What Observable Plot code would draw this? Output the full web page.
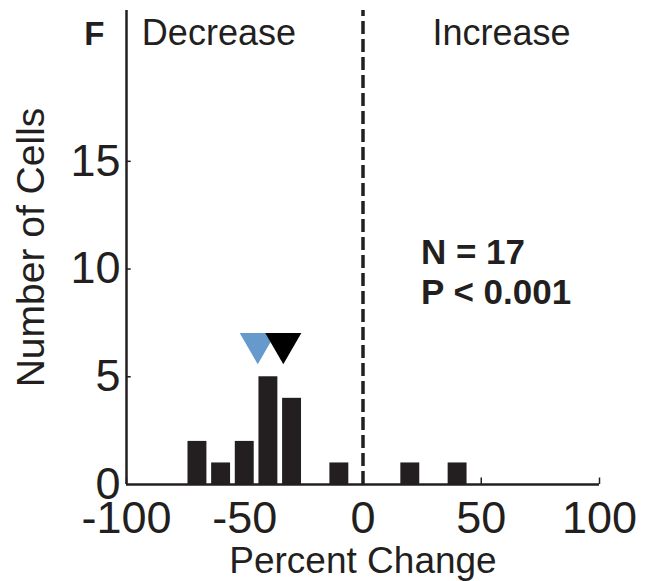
<!DOCTYPE html>
<html>
<head>
<meta charset="utf-8">
<script src="https://cdn.jsdelivr.net/npm/d3@7"></script>
<script src="https://cdn.jsdelivr.net/npm/@observablehq/plot@0.6"></script>
<style>
  body { margin: 0; background: #fff; }
</style>
</head>
<body>
<div id="chart"></div>
<script>
// ---- data ----
const binCenters = [-70, -60, -50, -40, -30, -10, 20, 40];   // percent change (bin centre)
const cellCounts = [2, 1, 2, 5, 4, 1, 1, 1];                // number of cells per bin
const binHalfWidth = 4;                                     // bars are ~8 % wide
const meanNames = ["mean (blue)", "mean (black)"];
const meanValues = [-44.5, -33.7];
const meanColors = ["#6699cc", "#000000"];
const xTicks = [-100, -50, 0, 50, 100];
const yTicks = [0, 5, 10, 15];
const regionLabels = ["Decrease", "Increase"];
const statsLines = ["N = 17", "P < 0.001"];
const panelLetter = "F";
const xLabel = "Percent Change";
const yLabel = "Number of Cells";

// ---- build tables ----
const bars = binCenters.map((c, i) => ({center: c, count: cellCounts[i]}));
const means = meanValues.map((v, i) => ({name: meanNames[i], value: v, color: meanColors[i]}));

const ink = "#231f20";
const font = "'Liberation Sans', Arial, Helvetica, sans-serif";

const chart = Plot.plot({
  width: 656,
  height: 581,
  marginLeft: 126,
  marginRight: 57,
  marginTop: 10,
  marginBottom: 97,
  style: {fontFamily: font, fontSize: "45px", color: ink, background: "#fff"},
  x: {domain: [-100, 100]},
  y: {domain: [0, 22]},
  color: {type: "identity"},
  marks: [
    Plot.rectY(bars, {
      x1: d => d.center - binHalfWidth,
      x2: d => d.center + binHalfWidth,
      y1: 0,
      y2: "count",
      fill: ink
    }),
    Plot.ruleX([0], {y1: 0, y2: 22, stroke: ink, strokeWidth: 3.5, strokeDasharray: "13,5"}),
    Plot.ruleX([-100], {y1: 0, y2: 22, stroke: ink, strokeWidth: 2.5}),
    Plot.ruleY([0], {x1: -100, x2: 100, stroke: ink, strokeWidth: 2.5}),
    Plot.ruleY(yTicks.slice(1), {x1: -100, x2: -98, stroke: ink, strokeWidth: 1.5}),
    Plot.ruleX(xTicks, {y1: 0, y2: 0.3, stroke: ink, strokeWidth: 1.5}),
    Plot.axisX({ticks: xTicks, tickSize: 0, tickPadding: 17, tickFormat: d => String(d), label: null}),
    Plot.axisY({ticks: yTicks, tickSize: 0, tickPadding: 6, tickFormat: d => String(d), label: null}),
    Plot.dot(means, {
      x: "value", y: 6.55, symbol: "triangle", rotate: 180, r: 13.4,
      fill: "color", stroke: null
    }),
    Plot.text([panelLetter], {
      text: d => d, frameAnchor: "top-left", dx: -22, dy: 34,
      textAnchor: "end", lineAnchor: "bottom", fontWeight: "bold", fontSize: 33
    }),
    Plot.text([regionLabels[0]], {
      text: d => d, x: -93.5, frameAnchor: "top", dy: 34,
      textAnchor: "start", lineAnchor: "bottom", fontSize: 36
    }),
    Plot.text([regionLabels[1]], {
      text: d => d, x: 29.4, frameAnchor: "top", dy: 34,
      textAnchor: "start", lineAnchor: "bottom", fontSize: 36
    }),
    Plot.text([statsLines.join("\n")], {
      text: d => d, x: 24.5, y: 8.4,
      textAnchor: "start", lineAnchor: "bottom", lineHeight: 1.143,
      fontWeight: "bold", fontSize: 35
    }),
    Plot.text([yLabel], {
      text: d => d, frameAnchor: "left", dx: -83, rotate: -90,
      textAnchor: "middle", lineAnchor: "bottom", fontSize: 39
    }),
    Plot.text([xLabel], {
      text: d => d, frameAnchor: "bottom", dy: 88,
      textAnchor: "middle", lineAnchor: "bottom", fontSize: 37
    })
  ]
});

document.getElementById("chart").appendChild(chart);
</script>
</body>
</html>
